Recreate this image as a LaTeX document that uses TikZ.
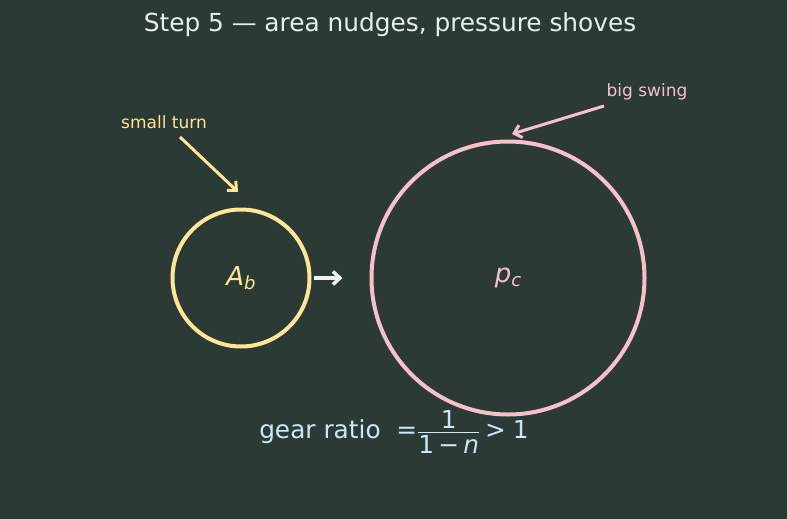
\documentclass[tikz,border=0pt]{standalone}
\usepackage{fontspec}
\setmainfont{DejaVu Sans}
\usetikzlibrary{arrows.meta}
\definecolor{bgcol}{HTML}{2B3A35}
\definecolor{titlecol}{HTML}{E8EFE8}
\definecolor{areacol}{HTML}{FFE596}
\definecolor{prescol}{HTML}{F8C0CC}
\definecolor{gearcol}{HTML}{CDE6F8}
\definecolor{pushcol}{HTML}{EEF2EE}
\begin{document}
\begin{tikzpicture}[x=1pt, y=-1pt, every node/.style={inner sep=0pt}]
  \tikzstyle{ring}=[draw, circle, line width=4pt, inner sep=0pt]
  \tikzstyle{note}=[font=\fontsize{17}{20}\selectfont]
  \tikzstyle{pointer}=[line width=3pt, -{Straight Barb[length=7pt, width=13pt]}]
  \useasboundingbox (0, 0) rectangle (787, 519);
  \fill[bgcol] (0, 0) rectangle (787, 519);
  \node[titlecol, font=\fontsize{24.8}{28}\selectfont] (title) at (390, 25)
    {Step 5 — area nudges, pressure shoves};
  \node[ring, areacol, minimum size=137] (ab) at (241, 278)
    {\fontsize{26}{30}\selectfont\itshape A\raisebox{-0.25ex}{\fontsize{18}{20}\selectfont b}};
  \node[ring, prescol, minimum size=273] (pc) at (508, 278)
    {\fontsize{26}{30}\selectfont\itshape p\raisebox{-0.25ex}{\fontsize{18}{20}\selectfont c}};
  \draw[pointer, pushcol, line width=3.5pt, shorten <=2pt, shorten >=27pt] (ab.east) -- (pc.west);
  \node[note, areacol] (turn) at (164, 122) {small turn};
  \node[note, prescol] (swing) at (647, 92) {big swing};
  \coordinate (turn-tail) at (180, 137);
  \coordinate (turn-head) at (238, 192);
  \coordinate (swing-tail) at (604, 106);
  \coordinate (swing-head) at (512, 134);
  \draw[pointer, areacol] (turn-tail) -- (turn-head);
  \draw[pointer, prescol] (swing-tail) -- (swing-head);
  \node[gearcol, font=\fontsize{24.8}{28}\selectfont] (gear) at (394, 432)
    {gear ratio\ \ =$\frac{\mbox{1}}{\mbox{\rule{0pt}{21pt}1\,−\,\itshape n}}$\hspace{5pt}>\hspace{7pt}1};
\end{tikzpicture}
\end{document}
